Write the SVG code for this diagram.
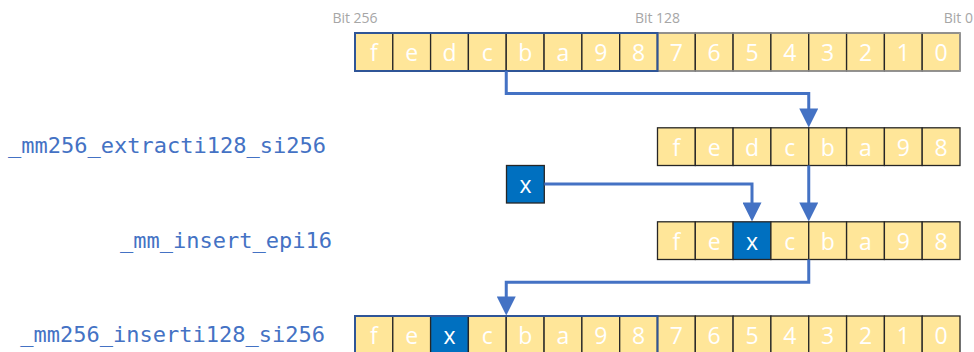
<svg xmlns="http://www.w3.org/2000/svg" width="974" height="352" viewBox="0 0 974 352">
<style>
.c{fill:#FFE699;stroke:#262626;stroke-width:1.3}
.cx{fill:#0070C0;stroke:#262626;stroke-width:1.3}
.t{font-family:"Open Sans","Noto Sans",sans-serif;font-size:23px;fill:#ffffff;text-anchor:middle}
.bit{font-family:"Open Sans","Noto Sans",sans-serif;font-size:14px;fill:#a6a6a6;text-anchor:middle}
.lbl{font-family:"DejaVu Sans Mono","Liberation Mono",monospace;font-size:22px;fill:#4472C4;text-anchor:end}
.hi{fill:none;stroke:#2F5597;stroke-width:2}
.gr{fill:none;stroke:#a6a6a6;stroke-width:1.3}
.con{fill:none;stroke:#4472C4;stroke-width:3;marker-end:url(#ah)}
</style>
<defs>
<marker id="ah" markerUnits="userSpaceOnUse" markerWidth="19" markerHeight="19" viewBox="0 0 18 18" refX="10" refY="9" orient="auto">
<path d="M0,0 L18,9 L0,18 z" fill="#4472C4"/>
</marker>
</defs>
<rect width="974" height="352" fill="#ffffff"/>

<g id="bit-labels">
<text class="bit" x="355" y="22.5">Bit 256</text>
<text class="bit" x="657.5" y="22.5">Bit 128</text>
<text class="bit" x="973" y="22.5" style="text-anchor:end">Bit 0</text>
</g>

<g id="labels">
<text class="lbl" x="326" y="153">_mm256_extracti128_si256</text>
<text class="lbl" x="332" y="248">_mm_insert_epi16</text>
<text class="lbl" x="325" y="342">_mm256_inserti128_si256</text>
</g>

<g id="src256">
<rect class="c" x="355" y="33" width="37.8" height="38"/><text class="t" x="373.9" y="61">f</text>
<rect class="c" x="392.8" y="33" width="37.8" height="38"/><text class="t" x="411.7" y="61">e</text>
<rect class="c" x="430.6" y="33" width="37.8" height="38"/><text class="t" x="449.5" y="61">d</text>
<rect class="c" x="468.4" y="33" width="37.8" height="38"/><text class="t" x="487.3" y="61">c</text>
<rect class="c" x="506.25" y="33" width="37.8" height="38"/><text class="t" x="525.2" y="61">b</text>
<rect class="c" x="544.1" y="33" width="37.8" height="38"/><text class="t" x="563" y="61">a</text>
<rect class="c" x="581.9" y="33" width="37.8" height="38"/><text class="t" x="600.8" y="61">9</text>
<rect class="c" x="619.7" y="33" width="37.8" height="38"/><text class="t" x="638.6" y="61">8</text>
<rect class="c" x="657.5" y="33" width="37.8" height="38"/><text class="t" x="676.4" y="61">7</text>
<rect class="c" x="695.3" y="33" width="37.8" height="38"/><text class="t" x="714.2" y="61">6</text>
<rect class="c" x="733.1" y="33" width="37.8" height="38"/><text class="t" x="752" y="61">5</text>
<rect class="c" x="770.9" y="33" width="37.8" height="38"/><text class="t" x="789.8" y="61">4</text>
<rect class="c" x="808.75" y="33" width="37.8" height="38"/><text class="t" x="827.7" y="61">3</text>
<rect class="c" x="846.6" y="33" width="37.8" height="38"/><text class="t" x="865.5" y="61">2</text>
<rect class="c" x="884.4" y="33" width="37.8" height="38"/><text class="t" x="903.3" y="61">1</text>
<rect class="c" x="922.2" y="33" width="37.8" height="38"/><text class="t" x="941.1" y="61">0</text>
<rect class="gr" x="657.5" y="33" width="302.5" height="38"/>
<rect class="hi" x="355" y="33" width="302.5" height="38"/>
</g>

<g id="extract128">
<rect class="c" x="657.5" y="127.8" width="37.8" height="37.7"/><text class="t" x="676.4" y="155.5">f</text>
<rect class="c" x="695.3" y="127.8" width="37.8" height="37.7"/><text class="t" x="714.2" y="155.5">e</text>
<rect class="c" x="733.1" y="127.8" width="37.8" height="37.7"/><text class="t" x="752" y="155.5">d</text>
<rect class="c" x="770.9" y="127.8" width="37.8" height="37.7"/><text class="t" x="789.8" y="155.5">c</text>
<rect class="c" x="808.75" y="127.8" width="37.8" height="37.7"/><text class="t" x="827.7" y="155.5">b</text>
<rect class="c" x="846.6" y="127.8" width="37.8" height="37.7"/><text class="t" x="865.5" y="155.5">a</text>
<rect class="c" x="884.4" y="127.8" width="37.8" height="37.7"/><text class="t" x="903.3" y="155.5">9</text>
<rect class="c" x="922.2" y="127.8" width="37.8" height="37.7"/><text class="t" x="941.1" y="155.5">8</text>
</g>

<g id="xval">
<rect class="cx" x="506.5" y="165.5" width="37.8" height="37.5"/><text class="t" x="525.4" y="193">x</text>
</g>

<g id="insert16">
<rect class="c" x="657.5" y="221.8" width="37.8" height="37.7"/><text class="t" x="676.4" y="249.5">f</text>
<rect class="c" x="695.3" y="221.8" width="37.8" height="37.7"/><text class="t" x="714.2" y="249.5">e</text>
<rect class="cx" x="733.1" y="221.8" width="37.8" height="37.7"/><text class="t" x="752" y="249.5">x</text>
<rect class="c" x="770.9" y="221.8" width="37.8" height="37.7"/><text class="t" x="789.8" y="249.5">c</text>
<rect class="c" x="808.75" y="221.8" width="37.8" height="37.7"/><text class="t" x="827.7" y="249.5">b</text>
<rect class="c" x="846.6" y="221.8" width="37.8" height="37.7"/><text class="t" x="865.5" y="249.5">a</text>
<rect class="c" x="884.4" y="221.8" width="37.8" height="37.7"/><text class="t" x="903.3" y="249.5">9</text>
<rect class="c" x="922.2" y="221.8" width="37.8" height="37.7"/><text class="t" x="941.1" y="249.5">8</text>
</g>

<g id="result256">
<rect class="c" x="355" y="316" width="37.8" height="38"/><text class="t" x="373.9" y="343.5">f</text>
<rect class="c" x="392.8" y="316" width="37.8" height="38"/><text class="t" x="411.7" y="343.5">e</text>
<rect class="cx" x="430.6" y="316" width="37.8" height="38"/><text class="t" x="449.5" y="343.5">x</text>
<rect class="c" x="468.4" y="316" width="37.8" height="38"/><text class="t" x="487.3" y="343.5">c</text>
<rect class="c" x="506.25" y="316" width="37.8" height="38"/><text class="t" x="525.2" y="343.5">b</text>
<rect class="c" x="544.1" y="316" width="37.8" height="38"/><text class="t" x="563" y="343.5">a</text>
<rect class="c" x="581.9" y="316" width="37.8" height="38"/><text class="t" x="600.8" y="343.5">9</text>
<rect class="c" x="619.7" y="316" width="37.8" height="38"/><text class="t" x="638.6" y="343.5">8</text>
<rect class="c" x="657.5" y="316" width="37.8" height="38"/><text class="t" x="676.4" y="343.5">7</text>
<rect class="c" x="695.3" y="316" width="37.8" height="38"/><text class="t" x="714.2" y="343.5">6</text>
<rect class="c" x="733.1" y="316" width="37.8" height="38"/><text class="t" x="752" y="343.5">5</text>
<rect class="c" x="770.9" y="316" width="37.8" height="38"/><text class="t" x="789.8" y="343.5">4</text>
<rect class="c" x="808.75" y="316" width="37.8" height="38"/><text class="t" x="827.7" y="343.5">3</text>
<rect class="c" x="846.6" y="316" width="37.8" height="38"/><text class="t" x="865.5" y="343.5">2</text>
<rect class="c" x="884.4" y="316" width="37.8" height="38"/><text class="t" x="903.3" y="343.5">1</text>
<rect class="c" x="922.2" y="316" width="37.8" height="38"/><text class="t" x="941.1" y="343.5">0</text>
<rect class="hi" x="355" y="316" width="302.5" height="38"/>
</g>

<g id="connectors">
<path class="con" d="M506.25,71 V93.5 H808.75 V119"/>
<path class="con" d="M544.3,184 H752 V213"/>
<path class="con" d="M808.75,165.5 V213"/>
<path class="con" d="M808.75,259.5 V282.3 H506.25 V307"/>
</g>
</svg>
